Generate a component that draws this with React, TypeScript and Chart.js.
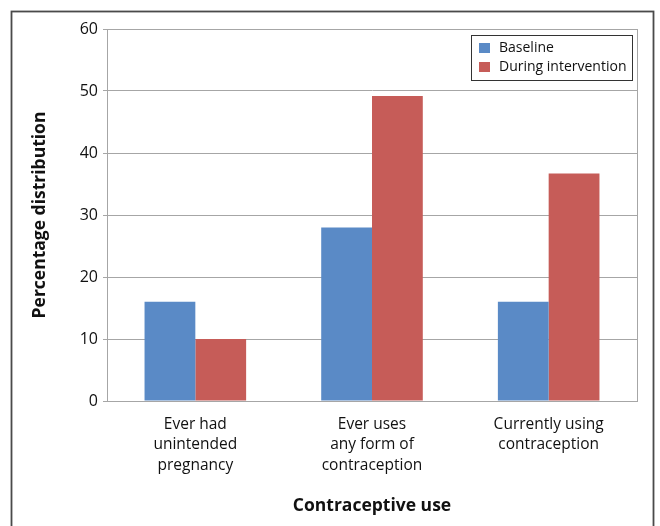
import React, { useEffect, useRef } from "react";
import { Chart, registerables } from "chart.js";

Chart.register(...registerables);

const categories: string[][] = [
  ["Ever had", "unintended", "pregnancy"],
  ["Ever uses", "any form of", "contraception"],
  ["Currently using", "contraception"],
];
const baseline: number[] = [16, 28, 16];
const duringIntervention: number[] = [10, 49.2, 36.7];
const yTicks: number[] = [0, 10, 20, 30, 40, 50, 60];

const FONT = "'Open Sans', 'Noto Sans', sans-serif";

const framePlugin = {
  id: "frame",
  afterDraw(chart: any) {
    const ctx = chart.ctx;
    const a = chart.chartArea;
    ctx.save();
    // plot border
    ctx.strokeStyle = "#a6a6a6";
    ctx.lineWidth = 1;
    ctx.strokeRect(Math.round(a.left) + 0.5, Math.round(a.top) + 0.5, Math.round(a.right - a.left), Math.round(a.bottom - a.top));
    // outer frame
    ctx.strokeStyle = "#4a4a4a";
    ctx.lineWidth = 1.8;
    ctx.strokeRect(11.5, 11.5, 642, 530);
    // legend
    const bx = Math.round(a.right) - 166;
    const by = Math.round(a.top) + 6;
    const bw = 161;
    const bh = 45;
    ctx.fillStyle = "#ffffff";
    ctx.fillRect(bx, by, bw, bh);
    ctx.strokeStyle = "#333333";
    ctx.lineWidth = 1;
    ctx.strokeRect(bx + 0.5, by + 0.5, bw, bh);
    ctx.font = "14px " + FONT;
    ctx.textBaseline = "middle";
    ctx.textAlign = "left";
    chart.data.datasets.forEach((ds: any, i: number) => {
      const cy = by + 13 + i * 19;
      ctx.fillStyle = ds.backgroundColor;
      ctx.fillRect(bx + 8, cy - 5, 11, 10);
      ctx.fillStyle = "#111111";
      ctx.fillText(ds.label, bx + 28, cy);
    });
    ctx.restore();
  },
};

export default function App() {
  const ref = useRef<HTMLCanvasElement | null>(null);
  useEffect(() => {
    document.body.style.margin = "0";
    if (!ref.current) return;
    const chart = new Chart(ref.current, {
      type: "bar",
      data: {
        labels: categories as any,
        datasets: [
          { label: "Baseline", data: baseline, backgroundColor: "#5A8AC6", borderWidth: 0 },
          { label: "During intervention", data: duringIntervention, backgroundColor: "#C65C58", borderWidth: 0 },
        ],
      },
      options: {
        animation: false,
        responsive: true,
        maintainAspectRatio: false,
        layout: { padding: { left: 0, right: 23, top: 29, bottom: 0 } },
        plugins: { legend: { display: false }, tooltip: { enabled: false } },
        datasets: { bar: { categoryPercentage: 0.575, barPercentage: 1 } },
        scales: {
          x: {
            grid: { display: false, drawTicks: false },
            border: { display: true, color: "#a6a6a6" },
            ticks: {
              color: "#111111",
              padding: 13,
              maxRotation: 0,
              autoSkip: false,
              font: { family: FONT, size: 15.5, lineHeight: 1.32 },
            },
            title: {
              display: true,
              text: "Contraceptive use",
              color: "#111111",
              font: { family: FONT, size: 17.5, weight: "bold", lineHeight: 1.2 },
              padding: { top: 0, bottom: 9.5 },
            },
            afterFit(scale: any) {
              scale.height = 125;
            },
          },
          y: {
            min: 0,
            max: 60,
            afterBuildTicks(scale: any) {
              scale.ticks = yTicks.map((v) => ({ value: v }));
            },
            grid: { color: "#a6a6a6", tickLength: 4, drawTicks: true },
            border: { display: true, color: "#a6a6a6" },
            ticks: {
              color: "#111111",
              padding: 5,
              font: { family: FONT, size: 16 },
            },
            title: {
              display: true,
              text: "Percentage distribution",
              color: "#111111",
              font: { family: FONT, size: 17.5, weight: "bold", lineHeight: 1.2 },
              padding: { top: 30, bottom: 0 },
            },
            afterFit(scale: any) {
              scale.width = 107;
            },
          },
        },
      },
      plugins: [framePlugin],
    });
    return () => chart.destroy();
  }, []);
  return (
    <div style={{ width: 660, height: 526, position: "relative", background: "#ffffff" }}>
      <canvas ref={ref} />
    </div>
  );
}
